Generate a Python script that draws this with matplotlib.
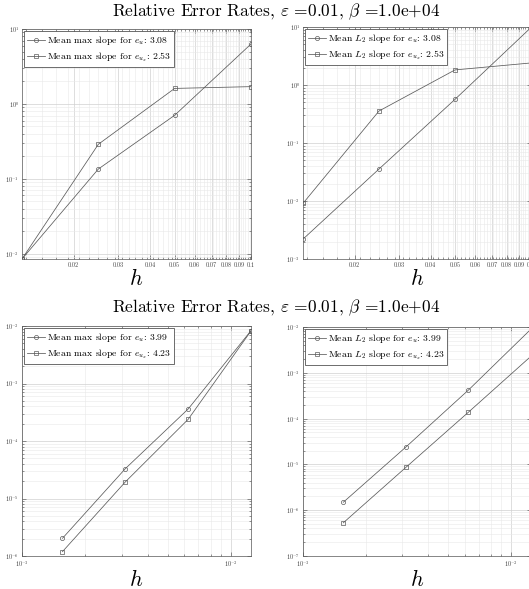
import numpy as np
import matplotlib
matplotlib.use("Agg")
import matplotlib.pyplot as plt
from matplotlib.ticker import FixedLocator, FixedFormatter, NullFormatter, LogLocator, LogFormatterMathtext

plt.rcParams['mathtext.fontset'] = 'cm'
plt.rcParams['font.family'] = ['cmr10', 'DejaVu Serif']
plt.rcParams['axes.formatter.use_mathtext'] = True

# grid spacings
h_coarse = [0.0125, 0.025, 0.05, 0.1]
h_fine = [0.0015625, 0.003125, 0.00625, 0.0125]

# top row: max / L2 relative errors on coarse grids
top_max_u = [0.0085, 0.135, 0.705, 6.3]
top_max_ux = [0.0085, 0.289, 1.61, 1.70]
top_l2_u = [0.0022, 0.0356, 0.566, 9.8]
top_l2_ux = [0.0091, 0.356, 1.82, 2.4]

# bottom row: fine grids
bot_max_u = [2.03e-6, 3.30e-5, 3.6e-4, 8.3e-3]
bot_max_ux = [1.19e-6, 1.94e-5, 2.38e-4, 8.2e-3]
bot_l2_u = [1.49e-6, 2.39e-5, 4.2e-4, 9.0e-3]
bot_l2_ux = [5.3e-7, 8.6e-6, 1.38e-4, 2.3e-3]

slopes_top = [3.08, 2.53]
slopes_bot = [3.99, 4.23]

coarse_ticks = [0.02, 0.03, 0.04, 0.05, 0.06, 0.07, 0.08, 0.09, 0.1]
coarse_labels = ['0.02', '0.03', '0.04', '0.05', '0.06', '0.07', '0.08', '0.09', '0.1']

title = r'Relative Error Rates, $\varepsilon$ =0.01, $\beta$ =1.0e+04'

W, H = 529, 589
fig = plt.figure(figsize=(W / 100, H / 100), dpi=100)


def px_axes(x0, x1, ytop, ybot):
    return fig.add_axes([x0 / W, 1 - ybot / H, (x1 - x0) / W, (ybot - ytop) / H])


def style(ax, xlim, ylim, coarse):
    ax.set_xscale('log')
    ax.set_yscale('log')
    ax.set_xlim(*xlim)
    ax.set_ylim(*ylim)
    if coarse:
        ax.xaxis.set_major_locator(FixedLocator(coarse_ticks))
        ax.xaxis.set_major_formatter(FixedFormatter(coarse_labels))
        ax.xaxis.set_minor_locator(FixedLocator(np.arange(0.013, 0.1, 0.002)))
    else:
        ax.xaxis.set_major_locator(LogLocator(base=10))
        ax.xaxis.set_major_formatter(LogFormatterMathtext())
        ax.xaxis.set_minor_locator(LogLocator(base=10, subs=np.arange(2, 10)))
    ax.xaxis.set_minor_formatter(NullFormatter())
    ax.yaxis.set_major_locator(LogLocator(base=10, numticks=20))
    ax.yaxis.set_minor_locator(LogLocator(base=10, subs=np.arange(2, 10), numticks=20))
    ax.yaxis.set_minor_formatter(NullFormatter())
    ax.grid(True, which='major', color='#d0d0d0', lw=0.5)
    ax.grid(True, which='minor', color='#e8e8e8', lw=0.4)
    ax.set_axisbelow(True)
    ax.tick_params(which='both', direction='in', top=True, right=True,
                   width=0.4, color='#444444', labelsize=4.5, labelcolor='#444444', pad=2)
    ax.tick_params(which='major', length=3)
    ax.tick_params(which='minor', length=1.5)
    for s in ax.spines.values():
        s.set_color('#555555')
        s.set_linewidth(0.5)
    ax.set_xlabel(r'$h$', fontsize=16, labelpad=0)


def draw(ax, h, yu, yux, kind, slopes):
    kw = dict(color='#5a5a5a', lw=0.55, ms=3, mfc='none', mew=0.5)
    ax.plot(h, yu, marker='o', label=r'Mean %s slope for $e_u$: %.2f' % (kind, slopes[0]), **kw)
    ax.plot(h, yux, marker='s', label=r'Mean %s slope for $e_{u_x}$: %.2f' % (kind, slopes[1]), **kw)
    leg = ax.legend(loc='upper left', fontsize=7, fancybox=False, framealpha=1,
                    edgecolor='#333333', borderpad=0.3, handlelength=1.8,
                    handletextpad=0.2, labelspacing=0.3, borderaxespad=0.25)
    leg.get_frame().set_linewidth(0.5)


ax1 = px_axes(22, 251, 29, 259)
style(ax1, (h_coarse[0], h_coarse[-1]), (0.0085, 10), True)
draw(ax1, h_coarse, top_max_u, top_max_ux, 'max', slopes_top)

ax2 = px_axes(303, 531, 27, 259)
style(ax2, (h_coarse[0], h_coarse[-1]), (1e-3, 10), True)
draw(ax2, h_coarse, top_l2_u, top_l2_ux, '$L_2$', slopes_top)

ax3 = px_axes(22, 251, 326, 556)
style(ax3, (1e-3, h_fine[-1]), (1e-6, 1e-2), False)
draw(ax3, h_fine, bot_max_u, bot_max_ux, 'max', slopes_bot)

ax4 = px_axes(303, 531, 327, 556)
style(ax4, (1e-3, h_fine[-1]), (1e-7, 1e-2), False)
draw(ax4, h_fine, bot_l2_u, bot_l2_ux, '$L_2$', slopes_bot)

fig.text(276.5 / W, 1 - 12 / H, title, ha='center', va='center', fontsize=12.5)
fig.text(276.5 / W, 1 - 308 / H, title, ha='center', va='center', fontsize=12.5)

fig.savefig('out.png', dpi=100)
